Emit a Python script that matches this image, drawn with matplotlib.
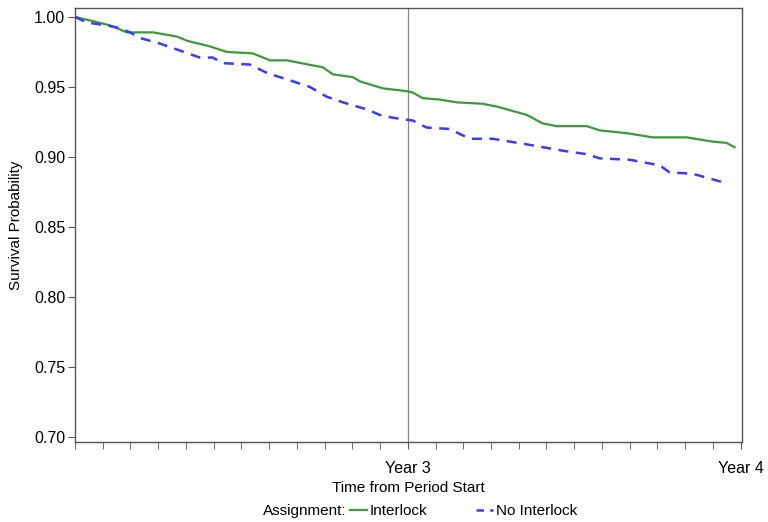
import matplotlib
matplotlib.use("Agg")
import matplotlib.pyplot as plt
from matplotlib.lines import Line2D
from matplotlib.ticker import MultipleLocator

plt.rcParams['font.family'] = ['Liberation Sans', 'DejaVu Sans']

# tiempo en meses desde el inicio del periodo
t_interlock = [24.0, 24.65, 25.26, 25.87, 26.81, 27.68, 28.04, 28.86, 29.48, 30.41,
               31.03, 31.64, 32.94, 33.30, 34.02, 34.27, 35.10, 35.96, 36.18, 36.54,
               37.15, 37.77, 38.70, 39.21, 40.29, 40.86, 41.37, 42.45, 42.92, 43.89,
               44.83, 46.05, 46.99, 47.50, 47.78]
s_interlock = [1.000, 0.997, 0.994, 0.989, 0.989, 0.986, 0.983, 0.979, 0.975, 0.974,
               0.969, 0.969, 0.964, 0.959, 0.957, 0.954, 0.949, 0.947, 0.946, 0.942,
               0.941, 0.939, 0.938, 0.936, 0.930, 0.924, 0.922, 0.922, 0.919, 0.917,
               0.914, 0.914, 0.911, 0.910, 0.907]

t_no_interlock = [24.0, 24.43, 25.15, 25.62, 25.98, 26.34, 27.06, 27.78, 28.50, 28.97,
                  29.33, 30.31, 30.92, 31.86, 32.47, 33.08, 33.66, 34.52, 34.99, 35.46,
                  36.18, 36.68, 37.51, 38.23, 39.06, 40.29, 40.86, 41.73, 42.45, 42.92,
                  44.00, 45.08, 45.44, 46.27, 47.53]
s_no_interlock = [1.000, 0.996, 0.994, 0.992, 0.989, 0.985, 0.981, 0.976, 0.971, 0.971,
                  0.967, 0.966, 0.960, 0.954, 0.950, 0.943, 0.939, 0.934, 0.930, 0.928,
                  0.926, 0.921, 0.920, 0.913, 0.913, 0.909, 0.907, 0.904, 0.902, 0.899,
                  0.898, 0.894, 0.889, 0.888, 0.881]

year_ticks = [36, 48]
year_labels = ['Year 3', 'Year 4']
y_ticks = [0.70, 0.75, 0.80, 0.85, 0.90, 0.95, 1.00]

green = '#3c9a3c'
blue = '#3a3aff'

fig = plt.figure(figsize=(7.68, 5.22), dpi=100)
ax = fig.add_axes([75/768, 80/522, 667/768, 434/522])

ax.plot(t_interlock, s_interlock, color=green, linewidth=1.6)
ax.plot(t_no_interlock, s_no_interlock, color=blue, linewidth=1.8, linestyle=(0, (4, 3)))

# linea de referencia en el año 3
ax.axvline(36, color='#888888', linewidth=0.9, zorder=0)

ax.set_xlim(24, 48.05)
ax.set_ylim(0.6964, 1.0064)
ax.set_xticks(year_ticks)
ax.set_xticklabels(year_labels)
ax.xaxis.set_minor_locator(MultipleLocator(1))
ax.set_yticks(y_ticks)
ax.set_yticklabels([f'{v:.2f}' for v in y_ticks])

ax.tick_params(axis='x', which='both', direction='out', length=5, color='#555555',
               labelsize=11.5, pad=9)
ax.tick_params(axis='y', direction='out', length=5, color='#555555', labelsize=11.5, pad=2)
for sp in ax.spines.values():
    sp.set_color('#555555')
    sp.set_linewidth(1.0)

ax.set_xlabel('Time from Period Start', fontsize=11, labelpad=3)
ax.set_ylabel('Survival Probability', fontsize=11, labelpad=8)

# leyenda inferior
fig.text(346/768, 11/522, 'Assignment:', ha='right', va='center', fontsize=11)
handles = [Line2D([], [], color=green, linewidth=1.6),
           Line2D([], [], color=blue, linewidth=1.8, linestyle=(0, (3, 2.5)))]
fig.legend(handles, ['Interlock', 'No Interlock'], ncol=2, frameon=False,
           loc='center left', bbox_to_anchor=(344/768, 11/522), fontsize=11,
           handlelength=1.1, handletextpad=0.2, columnspacing=3.2, borderaxespad=0)

fig.savefig('out.png', dpi=100)
